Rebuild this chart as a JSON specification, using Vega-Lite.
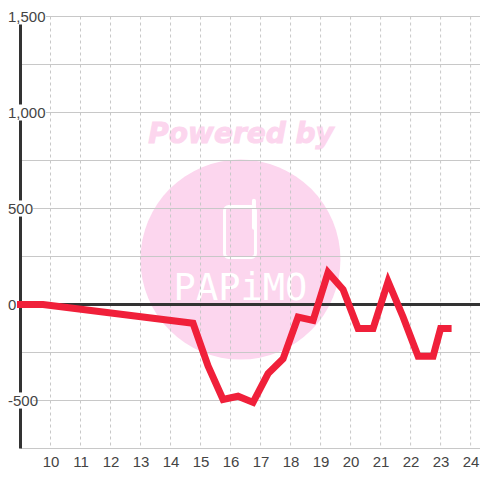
{
"$schema":"https://vega.github.io/schema/vega-lite/v6.json",
"width":460,"height":432,"autosize":"none",
"padding":{"left":20.5,"top":16.5,"right":0,"bottom":31.5},
"background":"white",
"config":{"view":{"stroke":null},"axis":{"grid":false,"domain":false,"ticks":false,"title":null,"labelFont":"Liberation Sans","labelFontSize":15,"labelColor":"#444444","labelFlush":false,"labelOverlap":false,"labelBound":false,"labelSeparation":0},"axisX":{"labelOverlap":false},"axisQuantitative":{"labelOverlap":false}},
"layer":[
{"data":{"values":[{"hour":16.33,"value":234}]},
 "mark":{"type":"point","shape":"circle","filled":true,"size":40000,"color":"#fcd6ee","opacity":1},
 "encoding":{"x":{"field":"hour","type":"quantitative","title":null,"scale":{"domain":[9,24.33]}},"y":{"field":"value","type":"quantitative","title":null,"scale":{"domain":[-750,1500]}}}},
{"data":{"values":[{"hour":15.8,"hour2":16.83,"value":510,"value2":245}]},
 "mark":{"type":"rect","fill":null,"stroke":"white","strokeWidth":3,"cornerRadius":4},
 "encoding":{"x":{"field":"hour","type":"quantitative","title":null,"scale":{"domain":[9,24.33]}},"x2":{"field":"hour2"},"y":{"field":"value","type":"quantitative","title":null,"scale":{"domain":[-750,1500]}},"y2":{"field":"value2"}}},
{"data":{"values":[{"hour":16.78,"value":540,"value2":400}]},
 "mark":{"type":"rule","stroke":"white","strokeWidth":4,"strokeCap":"round"},
 "encoding":{"x":{"field":"hour","type":"quantitative","title":null,"scale":{"domain":[9,24.33]}},"y":{"field":"value","type":"quantitative","title":null,"scale":{"domain":[-750,1500]}},"y2":{"field":"value2"}}},
{"data":{"values":[{"hour":16.33,"value":80,"label":"PAPiMO"}]},
 "mark":{"type":"text","font":"DejaVu Sans Mono","fontSize":37,"fill":"white","align":"center","baseline":"middle"},
 "encoding":{"x":{"field":"hour","type":"quantitative","title":null,"scale":{"domain":[9,24.33]}},"y":{"field":"value","type":"quantitative","title":null,"scale":{"domain":[-750,1500]}},"text":{"field":"label"}}},
{"data":{"values":[{"hour":16.35,"value":885,"label":"Powered by"}]},
 "mark":{"type":"text","font":"DejaVu Sans","fontSize":28,"fontWeight":"bold","fontStyle":"italic","fill":"#fcd6ee","stroke":"#fcd6ee","strokeWidth":1,"align":"center","baseline":"middle"},
 "encoding":{"x":{"field":"hour","type":"quantitative","title":null,"scale":{"domain":[9,24.33]}},"y":{"field":"value","type":"quantitative","title":null,"scale":{"domain":[-750,1500]}},"text":{"field":"label"}}},
{"data":{"values":[{"hour":10},{"hour":11},{"hour":12},{"hour":13},{"hour":14},{"hour":15},{"hour":16},{"hour":17},{"hour":18},{"hour":19},{"hour":20},{"hour":21},{"hour":22},{"hour":23},{"hour":24}]},
 "mark":{"type":"rule","stroke":"#c8c8c8","strokeWidth":1,"strokeDash":[3,3]},
 "encoding":{"x":{"field":"hour","type":"quantitative","title":null,"scale":{"domain":[9,24.33]}}}},
{"data":{"values":[{"value":1500},{"value":1250},{"value":1000},{"value":750},{"value":500},{"value":250},{"value":-250},{"value":-500},{"value":-750}]},
 "mark":{"type":"rule","stroke":"#c8c8c8","strokeWidth":1},
 "encoding":{"y":{"field":"value","type":"quantitative","title":null,"scale":{"domain":[-750,1500]}}}},
{"data":{"values":[{"hour":9}]},
 "mark":{"type":"rule","stroke":"#333333","strokeWidth":3},
 "encoding":{"x":{"field":"hour","type":"quantitative","title":null,"scale":{"domain":[9,24.33]}}}},
{"data":{"values":[{"value":1500,"lo":1458,"hi":1542,"from":8.7,"to":9.85},{"value":1000,"lo":958,"hi":1042,"from":8.7,"to":9.85},{"value":500,"lo":458,"hi":542,"from":8.7,"to":9.42},{"value":0,"lo":-42,"hi":42,"from":8.7,"to":8.95},{"value":-500,"lo":-542,"hi":-458,"from":8.7,"to":9.42}]},
 "mark":{"type":"rect","fill":"white"},
 "encoding":{"x":{"field":"from","type":"quantitative","title":null,"scale":{"domain":[9,24.33]}},"x2":{"field":"to"},"y":{"field":"lo","type":"quantitative","title":null,"scale":{"domain":[-750,1500]}},"y2":{"field":"hi"}}},
{"data":{"values":[{"value":0}]},
 "mark":{"type":"rule","stroke":"#333333","strokeWidth":3},
 "encoding":{"y":{"field":"value","type":"quantitative","title":null,"scale":{"domain":[-750,1500]}}}},
{"data":{"values":[
{"hour":9,"value":0},{"hour":9.75,"value":0},{"hour":14.75,"value":-98},{"hour":15.25,"value":-320},{"hour":15.75,"value":-495},{"hour":16.25,"value":-478},{"hour":16.75,"value":-510},{"hour":17.25,"value":-360},{"hour":17.75,"value":-283},{"hour":18.25,"value":-66},{"hour":18.75,"value":-83},{"hour":19.25,"value":167},{"hour":19.75,"value":78},{"hour":20.25,"value":-125},{"hour":20.75,"value":-125},{"hour":21.25,"value":120},{"hour":21.75,"value":-65},{"hour":22.25,"value":-270},{"hour":22.75,"value":-270},{"hour":23,"value":-125},{"hour":23.25,"value":-125}]},
 "mark":{"type":"line","stroke":"#f0203a","strokeWidth":7,"strokeCap":"square","strokeJoin":"miter","interpolate":"linear","clip":false},
 "encoding":{
  "x":{"field":"hour","type":"quantitative","scale":{"domain":[9,24.33]},
   "axis":{"title":null,"values":[10,11,12,13,14,15,16,17,18,19,20,21,22,23,24],"labelPadding":6,"labelOverlap":false,"labelFlush":false,"labelBound":false,"labelSeparation":0,"tickCount":15,"zindex":1,
    "encode":{"labels":{"update":{"opacity":{"value":1}}}}}},
  "y":{"field":"value","type":"quantitative","scale":{"domain":[-750,1500]},
   "axis":{"title":null,"values":[-500,0,500,1000,1500],"labelAlign":"left","labelPadding":13,"labelOverlap":false,"labelFlush":false,"zindex":1,"labelExpr":"replace(format(datum.value, ','), '−', '-')",
    "encode":{"labels":{"update":{"dx":{"signal":"datum.value < 0 ? -5 : 0"}}}}}}
 }}
]
}
